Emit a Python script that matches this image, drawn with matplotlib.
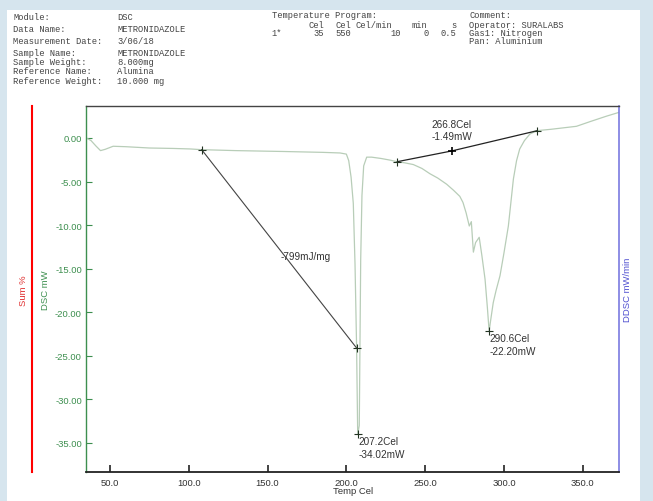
import matplotlib
matplotlib.use("Agg")
import matplotlib.pyplot as plt
from matplotlib.lines import Line2D
from matplotlib.patches import Rectangle

W, H = 653, 502

# DSC trace
temp = [35, 38, 41, 44, 47, 52, 60, 75, 90, 101, 108, 130, 160, 185, 196, 200,
        201.5, 203, 204.4, 205.5, 206.5, 207.2, 208.2, 209.1, 209.9, 211, 212.9,
        216, 222, 228, 232, 237, 242.5, 248, 253, 258, 263.6, 268, 272, 274, 276,
        278, 279.3, 280.6, 282, 284.3, 286, 288, 289.5, 290.6, 291.5, 293.2, 295,
        297.5, 300, 302.8, 306, 308, 310, 313, 316.5, 321, 330, 346, 355, 365, 373]
dsc = [0.0, -0.3, -0.9, -1.45, -1.3, -0.95, -1.0, -1.15, -1.2, -1.26, -1.34, -1.45,
       -1.55, -1.65, -1.72, -1.85, -2.6, -4.5, -7.5, -14.5, -24.0, -34.02, -33.0,
       -14.0, -6.6, -3.2, -2.2, -2.2, -2.35, -2.55, -2.72, -2.85, -3.05, -3.5, -4.1,
       -4.6, -5.3, -6.0, -6.7, -7.4, -8.6, -10.1, -9.6, -13.1, -12.0, -11.4, -13.5,
       -16.2, -19.5, -22.2, -21.0, -18.9, -17.5, -15.8, -13.2, -10.1, -4.7, -2.6,
       -1.26, -0.3, 0.46, 0.84, 1.0, 1.34, 1.9, 2.5, 2.94]

# analysis lines and markers
area_line_t = [108.2, 206.5]
area_line_v = [-1.34, -24.1]
onset_line_t = [232.3, 266.8, 321.2]
onset_line_v = [-2.72, -1.49, 0.84]
peak_t = [207.2, 290.6]
peak_v = [-34.02, -22.20]

yticks = [0, -5, -10, -15, -20, -25, -30, -35]
xticks = [50, 100, 150, 200, 250, 300, 350]

header_left = [("Module:", "DSC", 17.5), ("Data Name:", "METRONIDAZOLE", 30),
               ("Measurement Date:", "3/06/18", 41.7), ("Sample Name:", "METRONIDAZOLE", 53),
               ("Sample Weight:", "8.000mg", 62.5), ("Reference Name:", "Alumina", 71.5),
               ("Reference Weight:", "10.000 mg", 81.5)]
prog_head = [("Cel", 308.3), ("Cel", 336), ("Cel/min", 355), ("min", 411.7), ("s", 451.7)]
prog_row = [("35", 323.5), ("550", 351), ("10", 400.5), ("0", 428.5), ("0.5", 456)]
header_right = [("Comment:", 16), ("Operator: SURALABS", 26), ("Gas1: Nitrogen", 33.5),
                ("Pan: Aluminium", 41)]

fig = plt.figure(figsize=(W / 100, H / 100), dpi=100)
fig.patch.set_facecolor("#d6e5ee")
fig.patches.append(Rectangle((7 / W, 0), (640 - 7) / W, 1 - 11 / H,
                             transform=fig.transFigure, facecolor="white",
                             edgecolor="none", zorder=-5))


def ftext(x, y, s, **kw):
    fig.text(x / W, 1 - y / H, s, **kw)


mono = dict(family="Liberation Mono", fontsize=6.3, color="#444444", va="center")
for lab, val, y in header_left:
    ftext(13, y, lab, **mono)
    ftext(117, y, val, **mono)
ftext(271.7, 16, "Temperature Program:", **mono)
for s, x in prog_head:
    ftext(x, 26, s, **mono)
ftext(271.7, 33.5, "1*", **mono)
for s, x in prog_row:
    ftext(x, 33.5, s, ha="right", **mono)
for s, y in header_right:
    ftext(469.3, y, s, **mono)

ax = fig.add_axes([86 / W, 1 - 473 / H, (619 - 86) / W, (473 - 107) / H])
ax.plot(temp, dsc, color="#b8cdb8", lw=0.9, zorder=2)
ax.plot(area_line_t, area_line_v, color="#444444", lw=0.8, zorder=3)
ax.plot(onset_line_t, onset_line_v, color="#222222", lw=0.9, zorder=3)
ax.plot(area_line_t + onset_line_t[::2] + peak_t, area_line_v + onset_line_v[::2] + peak_v,
        ls="none", marker="+", ms=6, mew=0.8, color="#223322", zorder=4)
ax.plot([onset_line_t[1]], [onset_line_v[1]], ls="none", marker="+", ms=6, mew=1.2,
        color="black", zorder=4)

ann = dict(family="Liberation Sans", fontsize=7.2, color="#333333", va="center")
ax.text(158, -13.5, "-799mJ/mg", **ann)
ax.text(254, 1.6, "266.8Cel", **ann)
ax.text(254, 0.2, "-1.49mW", **ann)
for t, v in zip(peak_t, peak_v):
    ax.text(t + 0.5, v - 0.75, f"{t:.1f}Cel", **ann)
    ax.text(t + 0.5, v - 2.2, f"{v:.2f}mW", **ann)

ax.set_xlim(34.8, 373)
ax.set_ylim(-38.33, 3.67)
ax.set_yticks(yticks)
ax.set_yticklabels([f"{v:.2f}" for v in yticks])
ax.set_xticks(xticks)
ax.set_xticklabels([f"{v:.1f}" for v in xticks])
ax.tick_params(axis="y", direction="in", length=4.5, width=0.8, color="#3d8f4f",
               labelcolor="#3d8f4f", labelsize=6.8, pad=3)
ax.tick_params(axis="x", direction="in", length=5, width=1.2, color="#222222",
               labelcolor="#333333", labelsize=6.8, pad=4)
for lab in ax.get_xticklabels() + ax.get_yticklabels():
    lab.set_family("Liberation Sans")
ax.spines["left"].set_color("#3d8f4f")
ax.spines["left"].set_linewidth(1.0)
ax.spines["bottom"].set_color("#222222")
ax.spines["bottom"].set_linewidth(1.3)
ax.spines["top"].set_color("#444444")
ax.spines["top"].set_linewidth(1.0)
ax.spines["right"].set_color("#7a7ae0")
ax.spines["right"].set_linewidth(1.2)

ftext(353, 491.5, "Temp Cel", family="Liberation Sans", fontsize=6.8, color="#333333",
      ha="center", va="center")
ftext(45, 290, "DSC mW", family="Liberation Sans", fontsize=6.8, color="#3d8f4f",
      ha="center", va="center", rotation=90)
ftext(23, 291, "Sum %", family="Liberation Sans", fontsize=6.8, color="#e03030",
      ha="center", va="center", rotation=90)
ftext(628, 290, "DDSC mW/min", family="Liberation Sans", fontsize=6.8, color="#5050d0",
      ha="center", va="center", rotation=90)
fig.lines.append(Line2D([32 / W, 32 / W], [1 - 107 / H, 1 - 473 / H],
                        transform=fig.transFigure, color="red", lw=1.5))

fig.savefig("out.png", dpi=100)
